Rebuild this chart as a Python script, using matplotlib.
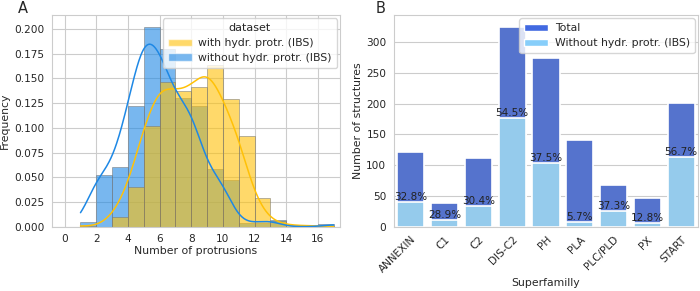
import numpy as np
import matplotlib
matplotlib.use("Agg")
import matplotlib.pyplot as plt
from matplotlib.patches import Patch
import seaborn as sns

# Panel A: frequency of number of protrusions (values 1..17)
protrusions = list(range(1, 18))
freq_with = [0.001, 0.000, 0.010, 0.040, 0.102, 0.146, 0.137, 0.141, 0.164,
             0.129, 0.092, 0.029, 0.006, 0.002, 0.001, 0.001, 0.000]
freq_without = [0.005, 0.052, 0.060, 0.122, 0.202, 0.180, 0.130, 0.122, 0.058,
                0.047, 0.004, 0.004, 0.007, 0.000, 0.000, 0.000, 0.003]

# Panel B: structures per superfamily
superfamilies = ["ANNEXIN", "C1", "C2", "DIS-C2", "PH", "PLA", "PLC/PLD", "PX", "START"]
total = [122, 38, 112, 325, 275, 141, 67, 47, 201]
without_ibs = [40, 11, 34, 177, 103, 8, 25, 6, 114]

YELLOW = "#FFC107"
BLUE = "#1E88E5"


def weighted_kde(values, weights, bw, grid):
    values = np.asarray(values, float)
    weights = np.asarray(weights, float)
    weights = weights / weights.sum()
    z = (grid[:, None] - values[None, :]) / bw
    dens = np.exp(-0.5 * z ** 2) / (bw * np.sqrt(2 * np.pi))
    return dens @ weights


def plot_hist(ax):
    bins = np.arange(1, 18)
    grid = np.linspace(1, 17, 400)
    for freq, color in [(freq_without, BLUE), (freq_with, YELLOW)]:
        ax.hist(protrusions, bins=bins, weights=freq, color=color, alpha=0.6,
                edgecolor=(0.45, 0.45, 0.45, 0.35), linewidth=0.6, zorder=2)
    for freq, color in [(freq_with, YELLOW), (freq_without, BLUE)]:
        ax.plot(grid, weighted_kde(protrusions, freq, 0.7, grid), color=color,
                lw=1.1, zorder=3)
    ax.set_xlim(-0.8, 17.4)
    ax.set_ylim(0, 0.214)
    ax.set_xticks(range(0, 17, 2))
    ax.set_yticks(np.arange(0, 0.201, 0.025))
    ax.set_xlabel("Number of protrusions", labelpad=1)
    ax.set_ylabel("Frequency", labelpad=3)
    handles = [Patch(facecolor=YELLOW, alpha=0.6), Patch(facecolor=BLUE, alpha=0.6)]
    ax.legend(handles, ["with hydr. protr. (IBS)", "without hydr. protr. (IBS)"],
              title="dataset", loc="upper right", fontsize=7.8, title_fontsize=8,
              borderaxespad=0.3, handlelength=2.2, labelspacing=0.45,
              borderpad=0.45, handletextpad=0.6)


def plot_bars(ax):
    x = np.arange(len(superfamilies))
    dark = sns.desaturate("royalblue", 0.75)
    light = sns.desaturate("lightskyblue", 0.75)
    ax.bar(x, total, width=0.8, color=dark, edgecolor="white", lw=1.2, zorder=2)
    ax.bar(x, without_ibs, width=0.8, color=light, edgecolor="white", lw=1.2, zorder=2)
    for xi, t, w in zip(x, total, without_ibs):
        ax.text(xi, w, f"{100 * w / t:.1f}%", ha="center", va="bottom",
                fontsize=7.5, color="#222222", zorder=4)
    ax.set_xlim(-0.5, len(superfamilies) - 0.5)
    ax.set_ylim(0, 344)
    ax.set_xticks(x)
    ax.set_xticklabels(superfamilies, rotation=45, ha="right", rotation_mode="anchor")
    ax.grid(axis="x", visible=False)
    ax.set_xlabel("Superfamilly", labelpad=2)
    ax.set_ylabel("Number of structures", labelpad=2)
    handles = [Patch(facecolor="royalblue"), Patch(facecolor="lightskyblue")]
    ax.legend(handles, ["Total", "Without hydr. protr. (IBS)"], loc="upper right",
              fontsize=7.8, borderaxespad=0.3, handlelength=2.2, labelspacing=0.45,
              borderpad=0.45, handletextpad=0.6)


def main():
    sns.set_style("whitegrid")
    plt.rcParams["font.family"] = ["DejaVu Sans"]
    plt.rcParams.update({"font.size": 7.8, "xtick.labelsize": 7.6, "ytick.labelsize": 7.6,
                         "axes.labelsize": 7.8, "xtick.major.pad": 2,
                         "ytick.major.pad": 2})

    fig = plt.figure(figsize=(7, 2.91), dpi=100)
    ax_a = fig.add_axes([0.0743, 0.221, 0.4114, 0.727])
    ax_b = fig.add_axes([0.563, 0.221, 0.434, 0.727])

    plot_hist(ax_a)
    plot_bars(ax_b)

    fig.text(0.032, 0.972, "A", fontsize=10.5, va="center", ha="center")
    fig.text(0.543, 0.972, "B", fontsize=10.5, va="center", ha="center")

    fig.savefig("out.png", dpi=100)


if __name__ == "__main__":
    main()
